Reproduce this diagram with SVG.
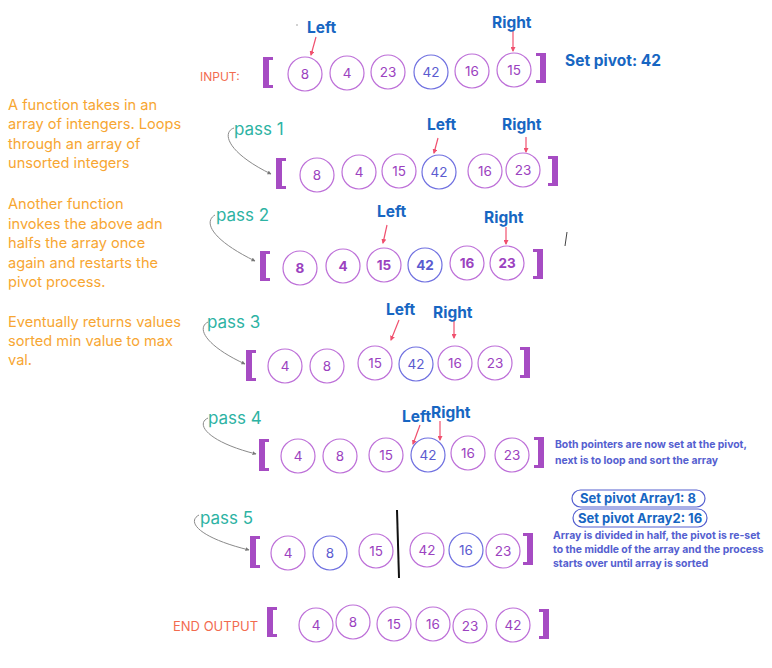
<svg xmlns="http://www.w3.org/2000/svg" width="772" height="668" viewBox="0 0 772 668">
<defs>
<style>
text{font-family:Inter,"Liberation Sans",sans-serif}
.c{fill:#fff;stroke:#bd6fd8;stroke-width:1.2}
.cp{fill:#fff;stroke:#6f70e0;stroke-width:1.2}
.n{font-size:13.5px;fill:#9b42c0;text-anchor:middle}
.np{font-size:13.5px;fill:#5b5bd0;text-anchor:middle}
.b{font-weight:700}
.br{fill:#a64cc3}
.lr{font-weight:700;fill:#1766c2;font-size:15.5px}
.pass{font-size:17px;fill:#2db3a3}
.note{font-size:14.6px;fill:#f7a632}
.red{fill:#f26b4f}
.blue{font-size:10.4px;font-weight:700;fill:#5560d0}
.ptr{stroke:#f0506e;stroke-width:1.2;fill:none;marker-end:url(#ah)}
.cur{stroke:#8a8a8a;stroke-width:1;fill:none;marker-end:url(#ag)}
.pill{fill:#fff;stroke:#5560d0;stroke-width:1.2}
.pt{font-size:13px;font-weight:700;fill:#1766c2;text-anchor:middle}
</style>
<marker id="ah" markerWidth="5" markerHeight="5" refX="4" refY="2.5" orient="auto" markerUnits="userSpaceOnUse"><path d="M0,0 L5,2.5 L0,5 z" fill="#f0506e"/></marker>
<marker id="ag" markerWidth="4" markerHeight="4" refX="3.5" refY="2" orient="auto" markerUnits="userSpaceOnUse"><path d="M0,0 L4,2 L0,4 z" fill="#777"/></marker>
</defs>
<rect width="772" height="668" fill="#fff"/>

<g id="notes">
<text class="note" x="8" y="110">A function takes in an</text>
<text class="note" x="8" y="129">array of intengers. Loops</text>
<text class="note" x="8" y="149">through an array of</text>
<text class="note" x="8" y="168">unsorted integers</text>
<text class="note" x="8" y="209">Another function</text>
<text class="note" x="8" y="229">invokes the above adn</text>
<text class="note" x="8" y="248">halfs the array once</text>
<text class="note" x="8" y="268">again and restarts the</text>
<text class="note" x="8" y="287">pivot process.</text>
<text class="note" x="8" y="327">Eventually returns values</text>
<text class="note" x="8" y="346">sorted min value to max</text>
<text class="note" x="8" y="365">val.</text>
</g>

<g id="connectors">
<path class="ptr" d="M316,37 L311,55"/>
<path class="ptr" d="M513,31 L513,51"/>
<path class="ptr" d="M438,138 L434,153"/>
<path class="ptr" d="M526,137 L526,152"/>
<path class="ptr" d="M387,225 L383,243"/>
<path class="ptr" d="M506,227 L506,244"/>
<path class="ptr" d="M399,320 L391,340"/>
<path class="ptr" d="M454,319 L454,338"/>
<path class="ptr" d="M420,425 L413,444"/>
<path class="ptr" d="M440,421 L440,440"/>
<path class="cur" d="M234,128 C222,132 226,152 271,174"/>
<path class="cur" d="M215,215 C203,222 212,240 255,261"/>
<path class="cur" d="M208,322 C196,328 206,346 245,364"/>
<path class="cur" d="M208,418 C195,424 208,442 256,454"/>
<path class="cur" d="M199,515 C186,522 200,538 249,550"/>
</g>

<g id="input">
<text x="200" y="81" font-size="12" class="red">INPUT:</text>
<path class="br" d="M263,57 h10 v3 h-4 v25 h4 v3 h-10 z"/>
<circle class="c" cx="305" cy="74" r="17"/><text class="n" x="305" y="79">8</text>
<circle class="c" cx="347" cy="73" r="17"/><text class="n" x="347" y="78">4</text>
<circle class="c" cx="388" cy="72" r="17"/><text class="n" x="388" y="77">23</text>
<circle class="cp" cx="431" cy="72" r="17"/><text class="np" x="431" y="77">42</text>
<circle class="c" cx="472" cy="71" r="17"/><text class="n" x="472" y="76">16</text>
<circle class="c" cx="514" cy="70" r="17"/><text class="n" x="514" y="75">15</text>
<path class="br" d="M546,53 h-10 v3 h4 v24 h-4 v3 h10 z"/>
<text class="lr" x="307" y="33">Left</text>
<text class="lr" x="492" y="28">Right</text>
<text class="lr" x="565" y="66" font-size="14.5">Set pivot: 42</text>
<circle cx="297" cy="25" r="0.8" fill="#999"/>
</g>

<g id="pass1">
<text class="pass" x="234" y="135">pass 1</text>
<path class="br" d="M276,158 h10 v3 h-4 v25 h4 v3 h-10 z"/>
<circle class="c" cx="317" cy="175" r="17"/><text class="n" x="317" y="180">8</text>
<circle class="c" cx="359" cy="172" r="17"/><text class="n" x="359" y="177">4</text>
<circle class="c" cx="399" cy="171" r="17"/><text class="n" x="399" y="176">15</text>
<circle class="cp" cx="439" cy="172" r="17"/><text class="np" x="439" y="177">42</text>
<circle class="c" cx="485" cy="171" r="17"/><text class="n" x="485" y="176">16</text>
<circle class="c" cx="523" cy="170" r="17"/><text class="n" x="523" y="175">23</text>
<path class="br" d="M558,156 h-10 v3 h4 v24 h-4 v3 h10 z"/>
<text class="lr" x="427" y="130">Left</text>
<text class="lr" x="502" y="130">Right</text>
</g>

<g id="pass2">
<text class="pass" x="216" y="221">pass 2</text>
<path class="br" d="M260,251 h10 v3 h-4 v24 h4 v3 h-10 z"/>
<circle class="c" cx="300" cy="268" r="17"/><text class="n b" x="300" y="273">8</text>
<circle class="c" cx="343" cy="266" r="17"/><text class="n b" x="343" y="271">4</text>
<circle class="c" cx="384" cy="265" r="17"/><text class="n b" x="384" y="270">15</text>
<circle class="cp" cx="425" cy="265" r="17"/><text class="np b" x="425" y="270">42</text>
<circle class="c" cx="467" cy="263" r="17"/><text class="n b" x="467" y="268">16</text>
<circle class="c" cx="507" cy="263" r="17"/><text class="n b" x="507" y="268">23</text>
<path class="br" d="M543,249 h-10 v3 h4 v24 h-4 v3 h10 z"/>
<text class="lr" x="377" y="217">Left</text>
<text class="lr" x="484" y="223">Right</text>
<path d="M567,232 L565,246" stroke="#444" stroke-width="1"/>
</g>

<g id="pass3">
<text class="pass" x="207" y="328">pass 3</text>
<path class="br" d="M246,350 h10 v3 h-4 v25 h4 v3 h-10 z"/>
<circle class="c" cx="285" cy="366" r="17"/><text class="n" x="285" y="371">4</text>
<circle class="c" cx="327" cy="366" r="17"/><text class="n" x="327" y="371">8</text>
<circle class="c" cx="375" cy="363" r="17"/><text class="n" x="375" y="368">15</text>
<circle class="cp" cx="416" cy="364" r="17"/><text class="np" x="416" y="369">42</text>
<circle class="c" cx="455" cy="363" r="17"/><text class="n" x="455" y="368">16</text>
<circle class="c" cx="495" cy="363" r="17"/><text class="n" x="495" y="368">23</text>
<path class="br" d="M530,347 h-10 v3 h4 v25 h-4 v3 h10 z"/>
<text class="lr" x="386" y="315">Left</text>
<text class="lr" x="433" y="318">Right</text>
</g>

<g id="pass4">
<text class="pass" x="208" y="424">pass 4</text>
<path class="br" d="M259,439 h10 v3 h-4 v26 h4 v3 h-10 z"/>
<circle class="c" cx="298" cy="456" r="17"/><text class="n" x="298" y="461">4</text>
<circle class="c" cx="340" cy="456" r="17"/><text class="n" x="340" y="461">8</text>
<circle class="c" cx="386" cy="455" r="17"/><text class="n" x="386" y="460">15</text>
<circle class="cp" cx="428" cy="455" r="17"/><text class="np" x="428" y="460">42</text>
<circle class="c" cx="468" cy="453" r="17"/><text class="n" x="468" y="458">16</text>
<circle class="c" cx="512" cy="455" r="17"/><text class="n" x="512" y="460">23</text>
<path class="br" d="M544,437 h-10 v3 h4 v25 h-4 v3 h10 z"/>
<text class="lr" x="402" y="422" font-size="10">Left</text>
<text class="lr" x="431" y="418" font-size="10">Right</text>
<text class="blue" x="555" y="448">Both pointers are now set at the pivot,</text>
<text class="blue" x="555" y="464">next is to loop and sort the array</text>
</g>

<g id="pass5">
<text class="pass" x="200" y="524">pass 5</text>
<path class="br" d="M250,536 h10 v3 h-4 v26 h4 v3 h-10 z"/>
<circle class="c" cx="288" cy="553" r="17"/><text class="n" x="288" y="558">4</text>
<circle class="cp" cx="330" cy="553" r="17"/><text class="np" x="330" y="558">8</text>
<circle class="c" cx="376" cy="551" r="17"/><text class="n" x="376" y="556">15</text>
<path d="M397,510 L399,578" stroke="#111" stroke-width="2"/>
<circle class="c" cx="427" cy="550" r="17"/><text class="n" x="427" y="555">42</text>
<circle class="cp" cx="466" cy="550" r="17"/><text class="np" x="466" y="555">16</text>
<circle class="c" cx="503" cy="551" r="17"/><text class="n" x="503" y="556">23</text>
<path class="br" d="M533,533 h-10 v3 h4 v26 h-4 v3 h10 z"/>
<rect class="pill" x="572" y="490" width="133" height="17" rx="8.5"/>
<text class="pt" x="638" y="503">Set pivot Array1: 8</text>
<rect class="pill" x="573" y="509" width="134" height="18" rx="9"/>
<text class="pt" x="640" y="523">Set pivot Array2: 16</text>
<text class="blue" x="553" y="539">Array is divided in half, the pivot is re-set</text>
<text class="blue" x="553" y="553">to the middle of the array and the process</text>
<text class="blue" x="553" y="567">starts over until array is sorted</text>
</g>

<g id="output">
<text x="173" y="631" font-size="13" class="red">END OUTPUT</text>
<path class="br" d="M267,607 h10 v3 h-4 v24 h4 v3 h-10 z"/>
<circle class="c" cx="316" cy="625" r="17"/><text class="n" x="316" y="630">4</text>
<circle class="c" cx="353" cy="622" r="17"/><text class="n" x="353" y="627">8</text>
<circle class="c" cx="394" cy="624" r="17"/><text class="n" x="394" y="629">15</text>
<circle class="c" cx="433" cy="624" r="17"/><text class="n" x="433" y="629">16</text>
<circle class="c" cx="470" cy="626" r="17"/><text class="n" x="470" y="631">23</text>
<circle class="c" cx="513" cy="625" r="17"/><text class="n" x="513" y="630">42</text>
<path class="br" d="M549,609 h-10 v3 h4 v24 h-4 v3 h10 z"/>
</g>
</svg>
